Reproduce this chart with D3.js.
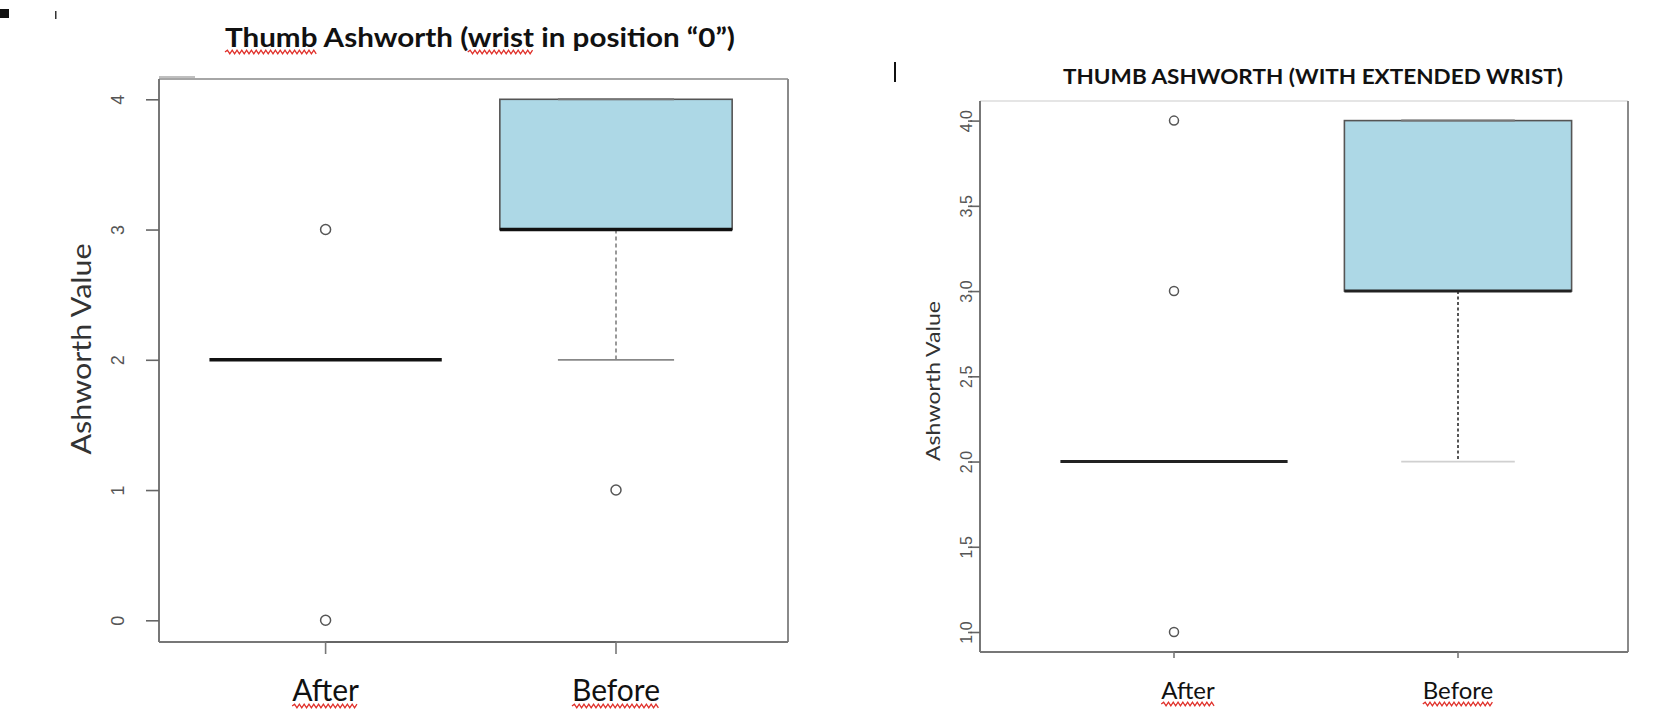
<!DOCTYPE html>
<html>
<head>
<meta charset="utf-8">
<script src="https://cdn.jsdelivr.net/npm/d3@7"></script>
<style>
  html, body { margin: 0; padding: 0; background: #fff; }
  svg { display: block; }
</style>
</head>
<body>
<svg id="chart" width="1674" height="712"></svg>
<script>
// ---------- DATA ----------
const categories = ["After", "Before"];

// Left chart: Thumb Ashworth (wrist in position "0")
const leftTitle = "Thumb Ashworth (wrist in position \u201C0\u201D)";
const leftTicks = [0, 1, 2, 3, 4];
const leftQ1 = [2, 3];
const leftMedian = [2, 3];
const leftQ3 = [2, 4];
const leftWhiskerLow = [2, 2];
const leftWhiskerHigh = [2, 4];
const leftOutliers = [[3, 0], [1]];

// Right chart: THUMB ASHWORTH (WITH EXTENDED WRIST)
const rightTitle = "THUMB ASHWORTH (WITH EXTENDED WRIST)";
const rightTicks = [1.0, 1.5, 2.0, 2.5, 3.0, 3.5, 4.0];
const rightQ1 = [2, 3];
const rightMedian = [2, 3];
const rightQ3 = [2, 4];
const rightWhiskerLow = [2, 2];
const rightWhiskerHigh = [2, 4];
const rightOutliers = [[4, 3, 1], []];

const yAxisTitle = "Ashworth Value";

// ---------- DRAW ----------
const svg = d3.select("#chart");

// stray marks from the source document
svg.append("rect").attr("x", 0).attr("y", 9).attr("width", 9).attr("height", 9).attr("fill", "#111");
svg.append("rect").attr("x", 55).attr("y", 11).attr("width", 1.5).attr("height", 8).attr("fill", "#333");
svg.append("rect").attr("x", 894).attr("y", 62).attr("width", 2).attr("height", 20).attr("fill", "#111");

function squiggle(g, x0, x1, y) {
  let d = `M${x0},${y}`;
  const step = 2.4;
  let up = true;
  for (let x = x0 + step; x <= x1; x += step) {
    d += ` L${x},${y + (up ? -1.8 : 1.8)}`;
    up = !up;
  }
  g.append("path").attr("d", d).attr("fill", "none")
    .attr("stroke", "#e0302a").attr("stroke-width", 1.3);
}

function drawChart(cfg) {
  const g = svg.append("g");
  const x = d3.scaleLinear().domain([0, 1]).range([cfg.afterX, cfg.beforeX]);
  const xPos = c => x(categories.indexOf(c));
  const unit = cfg.beforeX - cfg.afterX;
  const halfBox = 0.4 * unit;
  const halfCap = 0.2 * unit;
  const y = d3.scaleLinear().domain(cfg.yDomain).range([cfg.yBottom, cfg.yTop]);

  // frame
  const f = cfg.frame;
  g.append("line").attr("x1", f.left).attr("x2", f.right).attr("y1", f.top).attr("y2", f.top)
    .attr("stroke", cfg.frameTopColor).attr("stroke-width", 1.5);
  g.append("line").attr("x1", f.right).attr("x2", f.right).attr("y1", f.top).attr("y2", f.bottom)
    .attr("stroke", "#8a8a8a").attr("stroke-width", 2);
  g.append("line").attr("x1", f.left).attr("x2", f.right).attr("y1", f.bottom).attr("y2", f.bottom)
    .attr("stroke", "#777").attr("stroke-width", 2);
  g.append("line").attr("x1", f.left).attr("x2", f.left).attr("y1", f.top).attr("y2", f.bottom)
    .attr("stroke", "#777").attr("stroke-width", 2);
  if (cfg.frameExtra) {
    g.append("line").attr("x1", f.left).attr("x2", f.left + 36).attr("y1", f.top - 2).attr("y2", f.top - 2)
      .attr("stroke", "#aaa").attr("stroke-width", 1.5);
  }

  // y axis
  const yAxis = d3.axisLeft(y).tickValues(cfg.ticks).tickSize(cfg.tickLen).tickFormat(cfg.tickFormat);
  const ya = g.append("g").attr("transform", `translate(${f.left},0)`).call(yAxis);
  ya.select(".domain").remove();
  ya.selectAll(".tick line").attr("stroke", "#666").attr("stroke-width", 1.6);
  ya.selectAll(".tick text")
    .attr("x", null).attr("dy", null)
    .attr("transform", `translate(${cfg.tickLabelX - f.left},0) rotate(-90)`)
    .attr("text-anchor", "middle")
    .attr("dominant-baseline", "central")
    .attr("fill", "#555")
    .style("font-family", cfg.tickFont)
    .style("font-size", cfg.tickFontSize + "px");

  // x axis
  const xa = g.append("g").attr("transform", `translate(0,${f.bottom})`);
  xa.append("line").attr("x1", cfg.afterX).attr("x2", cfg.beforeX).attr("y1", 0).attr("y2", 0)
    .attr("stroke", "#666").attr("stroke-width", 2.2);
  xa.selectAll("line.xt").data(categories).join("line").attr("class", "xt")
    .attr("x1", d => xPos(d)).attr("x2", d => xPos(d))
    .attr("y1", 0).attr("y2", cfg.xTickLen)
    .attr("stroke", "#777").attr("stroke-width", 1.6);
  const xl = g.selectAll("text.xl").data(categories).join("text").attr("class", "xl")
    .attr("x", (d, i) => xPos(d) + cfg.xLabelOffsets[i]).attr("y", cfg.xLabelY)
    .attr("text-anchor", "middle")
    .attr("fill", "#111")
    .style("font-family", "Lato, 'Open Sans', sans-serif")
    .style("font-size", cfg.xLabelSize + "px")
    .text(d => d);
  xl.each(function (d, i) {
    const w = this.getComputedTextLength();
    const cx = xPos(d) + cfg.xLabelOffsets[i];
    squiggle(g, cx - w / 2, cx + w / 2, cfg.xLabelY + 5);
  });

  // boxes
  const stats = categories.map((c, i) => ({
    c, q1: cfg.q1[i], med: cfg.median[i], q3: cfg.q3[i],
    lo: cfg.low[i], hi: cfg.high[i], out: cfg.outliers[i]
  }));
  stats.forEach(s => {
    const cx = xPos(s.c);
    if (s.lo < s.q1) {
      g.append("line").attr("x1", cx).attr("x2", cx).attr("y1", y(s.q1)).attr("y2", y(s.lo))
        .attr("stroke", cfg.whiskerColor).attr("stroke-width", 2).attr("stroke-dasharray", cfg.whiskerDash);
      g.append("line").attr("x1", cx - halfCap).attr("x2", cx + halfCap).attr("y1", y(s.lo)).attr("y2", y(s.lo))
        .attr("stroke", cfg.capColor).attr("stroke-width", 1.8);
    }
    if (s.hi > s.q3) {
      g.append("line").attr("x1", cx).attr("x2", cx).attr("y1", y(s.q3)).attr("y2", y(s.hi))
        .attr("stroke", cfg.whiskerColor).attr("stroke-width", 2).attr("stroke-dasharray", cfg.whiskerDash);
    }
    if (s.q3 > s.q1) {
      g.append("rect").attr("x", cx - halfBox).attr("width", 2 * halfBox)
        .attr("y", y(s.q3)).attr("height", y(s.q1) - y(s.q3))
        .attr("fill", "#add8e6").attr("stroke", "#555").attr("stroke-width", 1.6);
      g.append("line").attr("x1", cx - halfCap).attr("x2", cx + halfCap).attr("y1", y(s.hi)).attr("y2", y(s.hi))
        .attr("stroke", "#777").attr("stroke-width", 2);
    }
    g.append("line").attr("x1", cx - halfBox).attr("x2", cx + halfBox)
      .attr("y1", y(s.med)).attr("y2", y(s.med))
      .attr("stroke", cfg.medianColor).attr("stroke-width", cfg.medianWidth);
    g.selectAll(null).data(s.out).join("circle")
      .attr("cx", cx).attr("cy", d => y(d)).attr("r", cfg.pointR)
      .attr("fill", "none").attr("stroke", "#555").attr("stroke-width", 1.5);
  });

  // y title
  g.append("text")
    .attr("transform", `translate(${cfg.yTitleX},${cfg.yTitleY}) rotate(-90)`)
    .attr("text-anchor", "middle")
    .attr("dominant-baseline", "central")
    .attr("fill", "#333")
    .style("font-family", "Lato, 'Open Sans', sans-serif")
    .style("font-size", cfg.yTitleSize + "px")
    .attr("textLength", cfg.yTitleLen).attr("lengthAdjust", "spacingAndGlyphs")
    .text(yAxisTitle);

  // title
  const t = g.append("text")
    .attr("x", cfg.titleX).attr("y", cfg.titleY)
    .attr("text-anchor", "middle")
    .attr("fill", "#111")
    .style("font-family", "Lato, 'Open Sans', sans-serif")
    .style("font-size", cfg.titleSize + "px")
    .style("font-weight", 700)
    .attr("textLength", cfg.titleLen).attr("lengthAdjust", "spacingAndGlyphs")
    .text(cfg.title);
  if (cfg.squiggleWords) {
    const node = t.node();
    const natural = node.getComputedTextLength();
    const k = cfg.titleLen / natural;
    const start = cfg.titleX - cfg.titleLen / 2;
    cfg.squiggleWords.forEach(([a, b]) => {
      const x0 = start + (a > 0 ? node.getSubStringLength(0, a) * k : 0);
      const x1 = start + node.getSubStringLength(0, b) * k;
      squiggle(g, x0, x1, cfg.titleY + 5);
    });
  }
}

drawChart({
  title: leftTitle, titleX: 480, titleY: 47, titleSize: 27, titleLen: 510,
  squiggleWords: [[0, 5], [16, 21]],
  frame: { left: 159, right: 788, top: 79, bottom: 642 }, frameTopColor: "#888", frameExtra: true,
  afterX: 325.6, beforeX: 616,
  yDomain: [0, 4], yBottom: 620.3, yTop: 99.3,
  ticks: leftTicks, tickFormat: d3.format("d"), tickLen: 13, tickLabelX: 118,
  tickFont: "'Liberation Sans', Arial, sans-serif", tickFontSize: 18,
  xTickLen: 12, xLabelY: 701, xLabelSize: 30, xLabelOffsets: [0, 0],
  q1: leftQ1, median: leftMedian, q3: leftQ3, low: leftWhiskerLow, high: leftWhiskerHigh, outliers: leftOutliers,
  whiskerColor: "#999", whiskerDash: "4,3", capColor: "#888",
  medianColor: "#111", medianWidth: 3.5, pointR: 5,
  yTitleX: 80, yTitleY: 349, yTitleSize: 27, yTitleLen: 211
});

drawChart({
  title: rightTitle, titleX: 1313, titleY: 84, titleSize: 20, titleLen: 500,
  squiggleWords: null,
  frame: { left: 980, right: 1628, top: 101, bottom: 652 }, frameTopColor: "#ddd", frameExtra: false,
  afterX: 1174, beforeX: 1458,
  yDomain: [1, 4], yBottom: 632, yTop: 120.6,
  ticks: rightTicks, tickFormat: d3.format(".1f"), tickLen: 12, tickLabelX: 966,
  tickFont: "'Liberation Sans Narrow', 'Liberation Sans', Arial, sans-serif", tickFontSize: 16,
  xTickLen: 6, xLabelY: 699, xLabelSize: 24, xLabelOffsets: [14, 0],
  q1: rightQ1, median: rightMedian, q3: rightQ3, low: rightWhiskerLow, high: rightWhiskerHigh, outliers: rightOutliers,
  whiskerColor: "#555", whiskerDash: "3,2.5", capColor: "#d0d0d0",
  medianColor: "#222", medianWidth: 3, pointR: 4.5,
  yTitleX: 932, yTitleY: 381, yTitleSize: 20, yTitleLen: 160
});
</script>
</body>
</html>
